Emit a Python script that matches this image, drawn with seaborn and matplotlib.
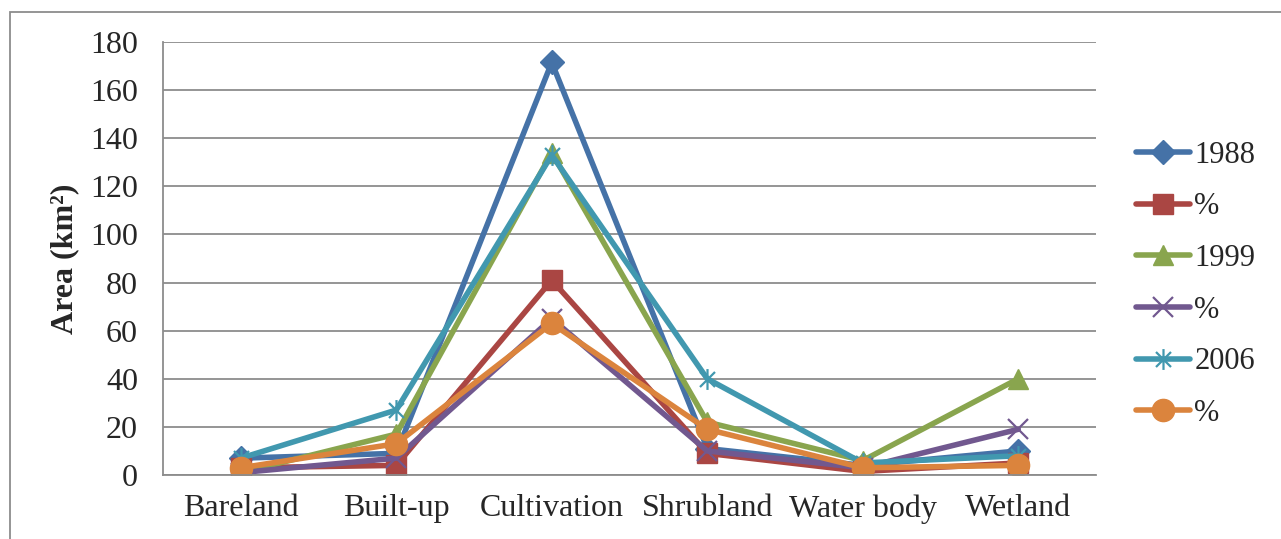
import matplotlib
matplotlib.use("Agg")
import matplotlib.pyplot as plt
from matplotlib.path import Path
from matplotlib.patches import Rectangle
import seaborn as sns
import pandas as pd

categories = ["Bareland", "Built-up", "Cultivation", "Shrubland", "Water body", "Wetland"]
y1988 = [7, 9, 171.5, 11, 4, 10]
p1988 = [3, 4, 81, 9, 1.5, 5]
y1999 = [1, 17, 134, 22, 6, 40]
p1999 = [1, 7, 65, 10, 3, 19]
y2006 = [7, 27, 133, 40, 5, 8]
p2006 = [3, 13, 63, 19, 3, 4]
legend_labels = ["1988", "%", "1999", "%", "2006", "%"]
yticks = [0, 20, 40, 60, 80, 100, 120, 140, 160, 180]

sns.set_theme(style="white")
plt.rcParams['font.family'] = ['Liberation Serif', 'DejaVu Serif']

fig = plt.figure(figsize=(12.81, 5.39), dpi=100)
ax = fig.add_axes([163/1281, 1 - 475/539, (1096-163)/1281, (475-42)/539])

star = Path([(0, -1), (0, 1), (-0.72, -0.72), (0.72, 0.72), (-0.72, 0.72), (0.72, -0.72)],
            [Path.MOVETO, Path.LINETO, Path.MOVETO, Path.LINETO, Path.MOVETO, Path.LINETO])

series = [y1988, p1988, y1999, p1999, y2006, p2006]
colors = ["#4572A7", "#AA4643", "#89A54E", "#71588F", "#4198AF", "#DB843D"]
markers = ["D", "s", "^", "x", star, "o"]
msizes = [12, 15, 15, 14, 15, 16]

x = list(range(len(categories)))
for vals, c, m, ms, lab in zip(series, colors, markers, msizes, legend_labels):
    df = pd.DataFrame({"x": x, "y": vals})
    sns.lineplot(data=df, x="x", y="y", ax=ax, color=c, linewidth=4,
                 marker=m, markersize=ms, markeredgecolor=c, markerfacecolor=c,
                 markeredgewidth=1.6 if (m == "x" or m is star) else 1,
                 label=lab, solid_capstyle="round", solid_joinstyle="round")

ax.set_xlim(-0.5, 5.5)
ax.set_ylim(0, 180)
ax.set_yticks(yticks)
ax.set_xticks(x)
ax.set_xticklabels(categories, fontsize=23)
ax.tick_params(axis="y", labelsize=23, length=0, pad=18)
ax.tick_params(axis="x", length=0, pad=14)
ax.yaxis.grid(True, color="#8C8C8C", linewidth=1.3)
ax.set_axisbelow(True)
for s in ["top", "right"]:
    ax.spines[s].set_visible(False)
for s in ["left", "bottom"]:
    ax.spines[s].set_color("#8C8C8C")
    ax.spines[s].set_linewidth(1.3)
ax.set_xlabel("")
ax.set_ylabel("Area (km²)", fontsize=23, fontweight="bold", labelpad=8)

leg = ax.legend(loc="upper left", bbox_to_anchor=(1.030, 0.80), frameon=False,
                fontsize=22, handlelength=1.75, handletextpad=0.15,
                labelspacing=0.74, borderaxespad=0)

fig.patches.append(Rectangle((10/1281, -0.1), 1.2, 1 - 12/539 + 0.1,
                             transform=fig.transFigure, fill=False,
                             edgecolor="#8C8C8C", linewidth=1.3))

fig.savefig("out.png", dpi=100, facecolor="white")
